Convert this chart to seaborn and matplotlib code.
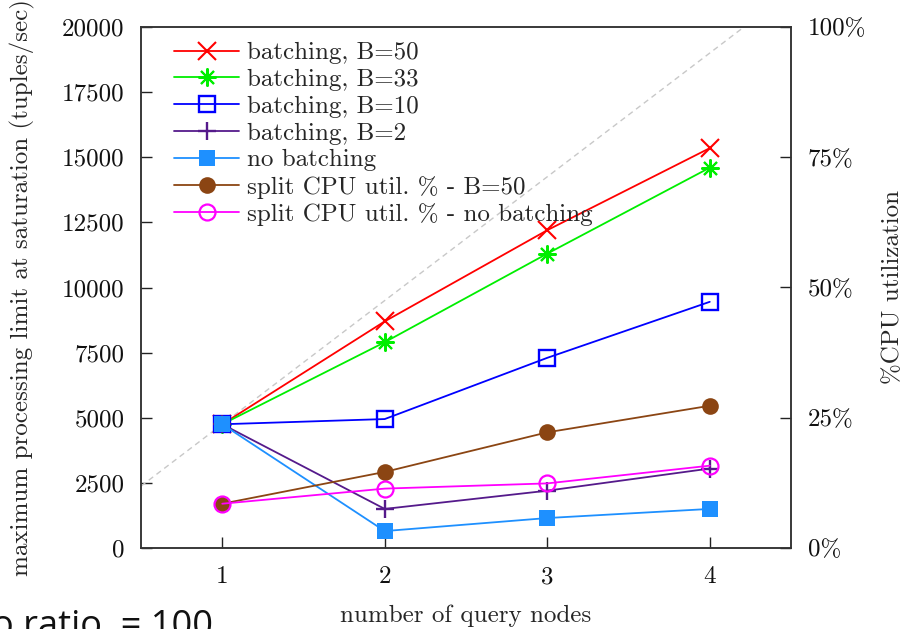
import matplotlib
matplotlib.use("Agg")
import matplotlib.pyplot as plt
import seaborn as sns

# query nodes on the x axis
nodes = [1, 2, 3, 4]

# max processing limit at saturation (tuples/sec), left axis
tput_b50 = [4750, 8700, 12200, 15350]
tput_b33 = [4750, 7900, 11300, 14600]
tput_b10 = [4750, 4950, 7300, 9450]
tput_b2 = [4750, 1500, 2200, 3050]
tput_nobatch = [4750, 650, 1150, 1500]

# split CPU utilisation (%), right axis
cpu_b50 = [8.5, 14.6, 22.2, 27.3]
cpu_nobatch = [8.5, 11.4, 12.4, 15.8]

# ideal linear scaling from the single-node throughput
ideal_per_node = 4750

left_ticks = [0, 2500, 5000, 7500, 10000, 12500, 15000, 17500, 20000]
right_ticks = [0, 25, 50, 75, 100]

sns.set_style("ticks")
plt.rcParams["font.family"] = ["cmr10", "DejaVu Serif"]
plt.rcParams["axes.formatter.use_mathtext"] = True
plt.rcParams["mathtext.fontset"] = "cm"

fig = plt.figure(figsize=(9.08, 6.29), dpi=100)
ax = fig.add_axes([141 / 908, 81 / 629, 650 / 908, 521 / 629])
ax2 = ax.twinx()

lw = 1.3
ax.axline((1, ideal_per_node), slope=ideal_per_node, color="#c8c8c8",
          lw=1.0, ls=(0, (4, 3)), zorder=1)


def series(a, y, color, marker, size, label, mew=1.5, hollow=False):
    sns.lineplot(x=nodes, y=y, ax=a, color=color, lw=lw, marker=marker,
                 markersize=size, markeredgewidth=mew, markeredgecolor=color,
                 markerfacecolor="none" if hollow else color, label=label)


series(ax, tput_b50, "#ff0000", "x", 12.5, "batching, B=50")
series(ax, tput_b33, "#00ee00", (8, 2, 0), 13, "batching, B=33")
series(ax, tput_b10, "#0000ff", "s", 11.5, "batching, B=10", mew=1.7, hollow=True)
series(ax, tput_b2, "#551a8b", "+", 13, "batching, B=2", mew=1.7)
series(ax, tput_nobatch, "#1e90ff", "s", 12, "no batching", mew=0)

series(ax2, cpu_b50, "#8b4513", "o", 12, "split CPU util. % - B=50", mew=0)
series(ax2, cpu_nobatch, "#ff00ff", "o", 11.5, "split CPU util. % - no batching",
       mew=1.6, hollow=True)

ax.set_xlim(0.5, 4.5)
ax.set_ylim(0, 20000)
ax2.set_ylim(0, 100)

ax.set_xticks(nodes)
ax.set_xticklabels([str(n) for n in nodes])
ax.set_yticks(left_ticks)
ax.set_yticklabels([str(t) for t in left_ticks])
ax2.set_yticks(right_ticks)
ax2.set_yticklabels([f"{t}%" for t in right_ticks])

for a in (ax, ax2):
    for s in a.spines.values():
        s.set_color("#333333")
        s.set_linewidth(1.1)
    a.tick_params(direction="in", length=8, width=1.0, color="#222222",
                  labelsize=18, labelcolor="#111111", pad=12)
ax.tick_params(axis="x", pad=13)

ax.set_xlabel("number of query nodes", fontsize=18, labelpad=12)
ax.set_ylabel("maximum processing limit at saturation (tuples/sec)", fontsize=18,
              labelpad=19)
ax2.set_ylabel("%CPU utilization", fontsize=18)
ax2.yaxis.set_label_coords(1.14, 0.5)

h1, l1 = ax.get_legend_handles_labels()
h2, l2 = ax2.get_legend_handles_labels()
if ax.get_legend():
    ax.get_legend().remove()
ax2.legend(h1 + h2, l1 + l2, loc="upper left", frameon=False, fontsize=18,
           handlelength=2.6, borderaxespad=0.2, labelspacing=0.17,
           handletextpad=0.3, bbox_to_anchor=(0.028, 1.0))

fig.text(213 / 908, -0.011, "o ratio  = 100", ha="right", va="baseline",
         fontsize=26, family=["Open Sans", "DejaVu Sans"], color="#111111")

fig.savefig("out.png", dpi=100)
